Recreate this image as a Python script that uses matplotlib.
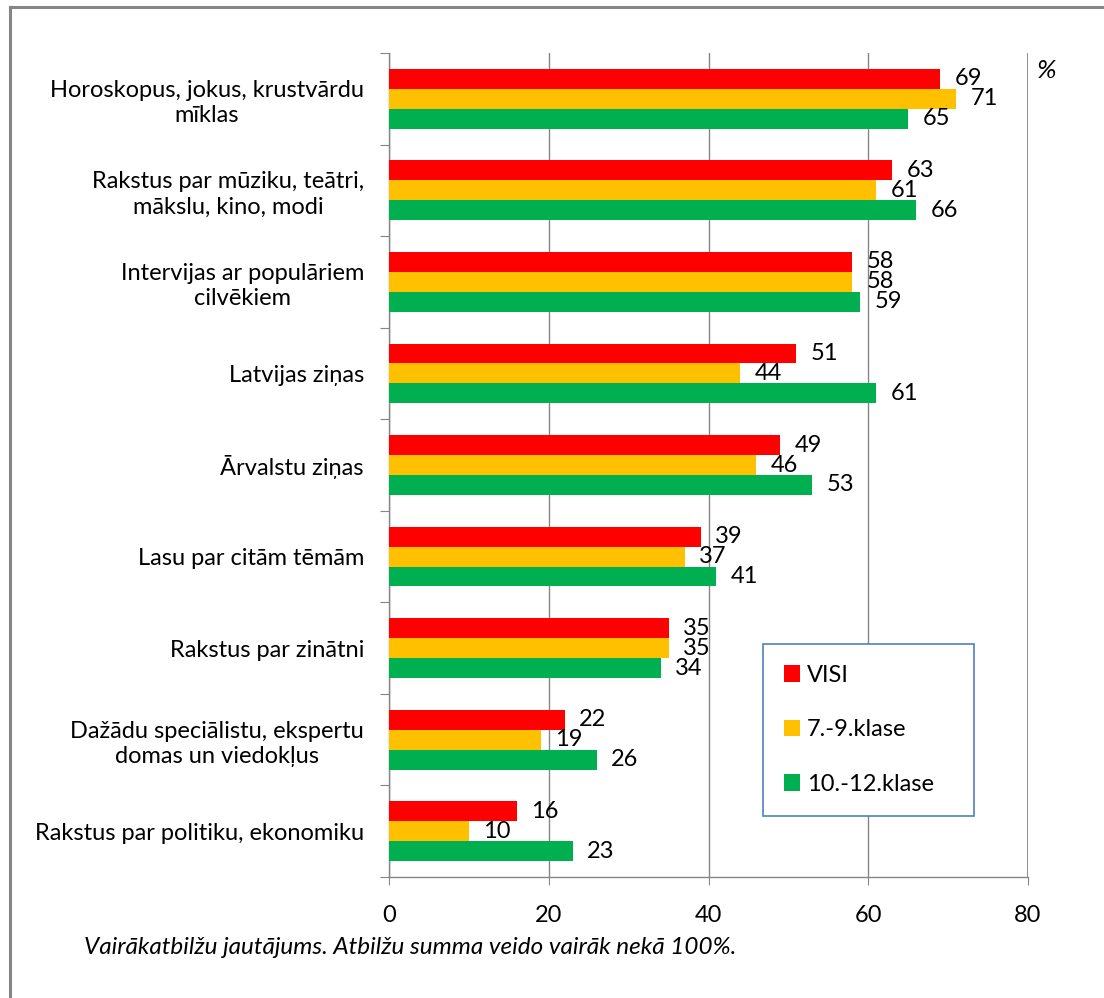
import numpy as np
import matplotlib
matplotlib.use("Agg")
import matplotlib.pyplot as plt
from matplotlib.lines import Line2D

plt.rcParams['font.family'] = ['Lato', 'DejaVu Sans']

categories = [
    "Horoskopus, jokus, krustvārdu\nmīklas",
    "Rakstus par mūziku, teātri,\nmākslu, kino, modi",
    "Intervijas ar populāriem\ncilvēkiem",
    "Latvijas ziņas",
    "Ārvalstu ziņas",
    "Lasu par citām tēmām",
    "Rakstus par zinātni",
    "Dažādu speciālistu, ekspertu\ndomas un viedokļus",
    "Rakstus par politiku, ekonomiku",
]
visi = [69, 63, 58, 51, 49, 39, 35, 22, 16]
kl_7_9 = [71, 61, 58, 44, 46, 37, 35, 19, 10]
kl_10_12 = [65, 66, 59, 61, 53, 41, 34, 26, 23]
series_names = ["VISI", "7.-9.klase", "10.-12.klase"]
colors = ["#FF0000", "#FFC000", "#00B050"]
xticks = [0, 20, 40, 60, 80]

GRAY = "#868686"
FS = 17

fig = plt.figure(figsize=(11.04, 9.98), dpi=100)
ax = fig.add_axes([389/1104, 1-877/998, 639/1104, 824/998])

n = len(categories)
y = np.arange(n)
h = 0.218
for k, (vals, col, name) in enumerate(zip([visi, kl_7_9, kl_10_12], colors, series_names)):
    ypos = y + (k - 1) * h
    ax.barh(ypos, vals, height=h, color=col, label=name, zorder=3)
    for yy, v in zip(ypos, vals):
        ax.annotate(str(v), (v, yy), xytext=(10.5, 0), textcoords="offset points",
                    va="center", ha="left", fontsize=FS, zorder=4)

ax.set_xlim(0, 80)
ax.set_ylim(n - 0.5, -0.5)
ax.set_xticks(xticks)
ax.set_xticklabels([str(t) for t in xticks])
ax.grid(axis="x", color=GRAY, lw=1.0, zorder=0)
ax.tick_params(axis="x", direction="out", length=6, color=GRAY, pad=14, labelsize=FS)

# category separators as major ticks, labels on minor ticks
ax.set_yticks(np.arange(-0.5, n, 1.0))
ax.set_yticklabels([])
ax.set_yticks(y, minor=True)
ax.set_yticklabels(categories, minor=True, fontsize=FS, linespacing=1.25)
for lab in ax.get_yticklabels(minor=True):
    lab.set_multialignment("center")
ax.tick_params(axis="y", which="major", direction="out", length=6.5, color=GRAY)
ax.tick_params(axis="y", which="minor", length=0, pad=18)

for s in ["top", "right"]:
    ax.spines[s].set_visible(False)
for s in ["left", "bottom"]:
    ax.spines[s].set_color(GRAY)
    ax.spines[s].set_linewidth(1.0)
ax.axvline(80, color=GRAY, lw=2.0, zorder=1)

x0 = (763 - 389) / 639
x1 = (974 - 389) / 639
ytop = (877 - 644) / 824
leg = ax.legend(loc="upper left", bbox_to_anchor=(x0, ytop, x1 - x0, 0.0), mode="expand",
                fontsize=FS, frameon=True, fancybox=False, edgecolor="#4F81BD",
                handlelength=0.68, handleheight=0.68, handletextpad=0.3,
                labelspacing=1.42, borderpad=0.88, borderaxespad=0)
leg.get_frame().set_linewidth(1.2)
leg.get_frame().set_alpha(1)

fig.text(1037/1104, 1-71/998, "%", fontsize=19, style="italic", va="center", ha="left")
fig.text(84/1104, 1-947/998, "Vairākatbilžu jautājums. Atbilžu summa veido vairāk nekā 100%.",
         fontsize=17.5, style="italic", va="center", ha="left")

# outer chart frame (left and top edges visible)
fig.add_artist(Line2D([10/1104, 10/1104], [0, 1-7/998], color=GRAY, lw=2.2,
                      transform=fig.transFigure))
fig.add_artist(Line2D([10/1104, 1], [1-7/998, 1-7/998], color=GRAY, lw=2.2,
                      transform=fig.transFigure))

fig.savefig("out.png", dpi=100)
